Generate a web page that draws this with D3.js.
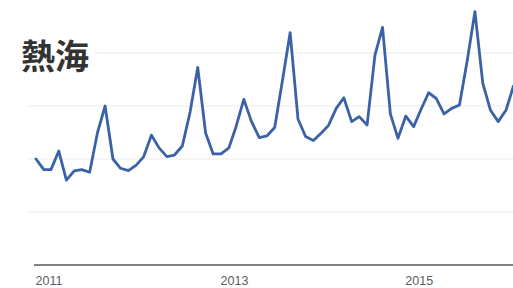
<!DOCTYPE html>
<html>
<head>
<meta charset="utf-8">
<script src="https://cdn.jsdelivr.net/npm/d3@7"></script>
<style>
  html, body { margin: 0; padding: 0; background: #fff; overflow: hidden; }
</style>
</head>
<body>
<div id="chart"></div>
<script>
// Monatswerte (Suchinteresse, 0-100), ab Januar 2011
const title = "熱海";
const startMonth = "2011-01";
const values = [
  40, 36, 36, 43, 32, 35.5, 36, 35, 50, 60, 40, 36.5,
  35.6, 37.7, 40.8, 49, 44.2, 40.9, 41.5, 44.9, 57.8, 74.6, 49.8, 41.9,
  41.9, 44.2, 52.1, 62.5, 54.2, 48.1, 48.7, 51.9, 69.8, 87.7, 55.1, 48.5,
  47, 49.8, 52.6, 59.1, 63.1, 54.1, 56, 52.8, 79.2, 89.7, 57, 47.8,
  56.2, 52.2, 58.5, 65, 62.9, 57, 59.1, 60.4, 77.4, 95.6, 68.6, 58.5,
  54.1, 58.5, 67.5
];
const yearTicks = ["2011", "2013", "2015"];
const gridValues = [20, 40, 60, 80];

const width = 513;
const height = 288;

const parseMonth = d3.timeParse("%Y-%m");
const start = parseMonth(startMonth);
const data = values.map((v, i) => ({ date: d3.timeMonth.offset(start, i), value: v }));

const svg = d3.select("#chart")
  .append("svg")
  .attr("width", width)
  .attr("height", height);

// x: Zeitachse, y: 0-100
const x = d3.scaleTime()
  .domain([start, d3.timeMonth.offset(start, 62)])
  .range([36, 513.4]);

const y = d3.scaleLinear()
  .domain([0, 100])
  .range([265, 0]);

// Gitterlinien
svg.append("g")
  .selectAll("line")
  .data(gridValues)
  .join("line")
  .attr("x1", 28)
  .attr("x2", width)
  .attr("y1", d => y(d))
  .attr("y2", d => y(d))
  .attr("stroke", "#ebebeb")
  .attr("stroke-width", 1);

// Titel mit weissem Hintergrund
svg.append("rect")
  .attr("x", 18)
  .attr("y", 34)
  .attr("width", 76)
  .attr("height", 40)
  .attr("fill", "#fff");

svg.append("text")
  .attr("x", 21)
  .attr("y", 54)
  .attr("dominant-baseline", "central")
  .attr("font-family", "'Noto Sans CJK JP', sans-serif")
  .attr("font-weight", "bold")
  .attr("font-size", 34)
  .attr("fill", "#333")
  .text(title);

// x-Achse
const xAxis = d3.axisBottom(x)
  .tickValues(yearTicks.map(t => d3.timeParse("%Y")(t)))
  .tickSize(0)
  .tickPadding(0)
  .tickFormat(d3.timeFormat("%Y"));

const axisG = svg.append("g")
  .attr("transform", `translate(0, ${y(0)})`)
  .call(xAxis);

axisG.select(".domain").remove();
axisG.append("line")
  .attr("x1", 34)
  .attr("x2", width)
  .attr("stroke", "#5a5a5a")
  .attr("stroke-width", 1.6);

axisG.selectAll(".tick text")
  .attr("text-anchor", "start")
  .attr("x", -1)
  .attr("y", 20)
  .attr("dy", 0)
  .attr("font-family", "'Liberation Sans', Arial, sans-serif")
  .attr("font-size", 12.5)
  .attr("fill", "#5c5c5c");

// Linie
const line = d3.line()
  .x(d => x(d.date))
  .y(d => y(d.value));

svg.append("path")
  .datum(data)
  .attr("d", line)
  .attr("fill", "none")
  .attr("stroke", "#3b62a6")
  .attr("stroke-width", 2.8)
  .attr("stroke-linejoin", "round")
  .attr("stroke-linecap", "round");
</script>
</body>
</html>
